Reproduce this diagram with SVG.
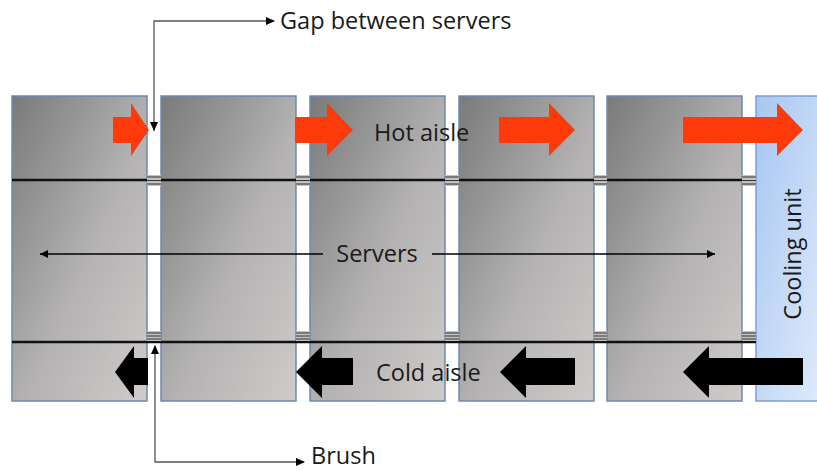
<svg xmlns="http://www.w3.org/2000/svg" width="817" height="471" viewBox="0 0 817 471">
  <defs>
    <linearGradient id="rackFill" x1="0" y1="0" x2="1" y2="1">
      <stop offset="0" stop-color="#7a7a7a"/>
      <stop offset="0.55" stop-color="#b4b2b2"/>
      <stop offset="1" stop-color="#cfcbcb"/>
    </linearGradient>
    <linearGradient id="coolFill" x1="0" y1="0" x2="1" y2="1">
      <stop offset="0" stop-color="#a6c6f2"/>
      <stop offset="1" stop-color="#e2ecfb"/>
    </linearGradient>
    <marker id="tipSmall" viewBox="0 0 10 10" refX="10" refY="5" markerWidth="8" markerHeight="8" markerUnits="userSpaceOnUse" orient="auto-start-reverse">
      <path d="M0,0 L10,5 L0,10 Z" fill="#000"/>
    </marker>
  </defs>
  <style>
    .rack { fill: url(#rackFill); stroke: #6d89ad; stroke-width: 1.5; }
    .cool { fill: url(#coolFill); stroke: #7f9fcb; stroke-width: 1.5; }
    .rail { stroke: #111; stroke-width: 2.4; }
    .brush rect { fill: #c4c2c2; }
    .brush line { stroke: #333; stroke-width: 1; }
    .hot { fill: #ff3a0a; }
    .cold { fill: #000; }
    .lbl { font-family: "Open Sans", "Liberation Sans", sans-serif; font-size: 23.5px; fill: #1a1a1a; }
    .lead { fill: none; stroke: #555; stroke-width: 1.3; }
  </style>

  <!-- server racks -->
  <g id="server1"><rect class="rack" x="12" y="96" width="135" height="305"/></g>
  <g id="server2"><rect class="rack" x="161" y="96" width="135" height="305"/></g>
  <g id="server3"><rect class="rack" x="310" y="96" width="135" height="305"/></g>
  <g id="server4"><rect class="rack" x="459" y="96" width="135" height="305"/></g>
  <g id="server5"><rect class="rack" x="607" y="96" width="135" height="305"/></g>

  <!-- cooling unit -->
  <g id="cooling-unit">
    <rect class="cool" x="756" y="96" width="70" height="305"/>
    <text class="lbl" transform="translate(801,254) rotate(-90)" text-anchor="middle">Cooling unit</text>
  </g>

  <!-- rails separating hot aisle, servers and cold aisle -->
  <g id="rails">
    <line class="rail" x1="12" y1="180" x2="756" y2="180"/>
    <line class="rail" x1="12" y1="342" x2="756" y2="342"/>
  </g>

  <!-- brushes closing the gaps between racks -->
  <g id="brushes" class="brush">
    <g transform="translate(147,175)"><rect width="14" height="11"/><line x1="0" y1="2" x2="14" y2="2"/><line x1="0" y1="5.5" x2="14" y2="5.5"/><line x1="0" y1="9" x2="14" y2="9"/></g>
    <g transform="translate(296,175)"><rect width="14" height="11"/><line x1="0" y1="2" x2="14" y2="2"/><line x1="0" y1="5.5" x2="14" y2="5.5"/><line x1="0" y1="9" x2="14" y2="9"/></g>
    <g transform="translate(445,175)"><rect width="14" height="11"/><line x1="0" y1="2" x2="14" y2="2"/><line x1="0" y1="5.5" x2="14" y2="5.5"/><line x1="0" y1="9" x2="14" y2="9"/></g>
    <g transform="translate(594,175)"><rect width="13" height="11"/><line x1="0" y1="2" x2="13" y2="2"/><line x1="0" y1="5.5" x2="13" y2="5.5"/><line x1="0" y1="9" x2="13" y2="9"/></g>
    <g transform="translate(742,175)"><rect width="14" height="11"/><line x1="0" y1="2" x2="14" y2="2"/><line x1="0" y1="5.5" x2="14" y2="5.5"/><line x1="0" y1="9" x2="14" y2="9"/></g>
    <g transform="translate(147,331)"><rect width="14" height="10"/><line x1="0" y1="2" x2="14" y2="2"/><line x1="0" y1="5" x2="14" y2="5"/><line x1="0" y1="8" x2="14" y2="8"/></g>
    <g transform="translate(296,331)"><rect width="14" height="10"/><line x1="0" y1="2" x2="14" y2="2"/><line x1="0" y1="5" x2="14" y2="5"/><line x1="0" y1="8" x2="14" y2="8"/></g>
    <g transform="translate(445,331)"><rect width="14" height="10"/><line x1="0" y1="2" x2="14" y2="2"/><line x1="0" y1="5" x2="14" y2="5"/><line x1="0" y1="8" x2="14" y2="8"/></g>
    <g transform="translate(594,331)"><rect width="13" height="10"/><line x1="0" y1="2" x2="13" y2="2"/><line x1="0" y1="5" x2="13" y2="5"/><line x1="0" y1="8" x2="13" y2="8"/></g>
    <g transform="translate(742,331)"><rect width="14" height="10"/><line x1="0" y1="2" x2="14" y2="2"/><line x1="0" y1="5" x2="14" y2="5"/><line x1="0" y1="8" x2="14" y2="8"/></g>
  </g>

  <!-- hot aisle airflow -->
  <g id="hot-aisle">
    <path class="hot" d="M113,117 H131 V103 L149,130 L131,156 V143 H113 Z"/>
    <path class="hot" d="M295,117 H327 V103 L353,130 L327,156 V143 H295 Z"/>
    <path class="hot" d="M499,117 H549 V103 L575,130 L549,156 V143 H499 Z"/>
    <path class="hot" d="M683,117 H777 V103 L803,130 L777,156 V143 H683 Z"/>
    <text class="lbl" x="374" y="141">Hot aisle</text>
  </g>

  <!-- cold aisle airflow -->
  <g id="cold-aisle">
    <path class="cold" d="M148,358 H134 V346 L115,372 L134,398 V385 H148 Z"/>
    <path class="cold" d="M353,358 H322 V346 L296,372 L322,398 V385 H353 Z"/>
    <path class="cold" d="M575,358 H526 V346 L500,372 L526,398 V385 H575 Z"/>
    <path class="cold" d="M803,358 H709 V346 L683,372 L709,398 V385 H803 Z"/>
    <text class="lbl" x="376" y="381">Cold aisle</text>
  </g>

  <!-- servers span -->
  <g id="servers-label">
    <text class="lbl" x="377" y="262" text-anchor="middle">Servers</text>
  </g>

  <!-- connectors -->
  <g id="connectors">
    <line x1="323" y1="254" x2="40" y2="254" stroke="#000" stroke-width="1.3" marker-end="url(#tipSmall)"/>
    <line x1="432" y1="254" x2="715" y2="254" stroke="#000" stroke-width="1.3" marker-end="url(#tipSmall)"/>
    <polyline class="lead" points="154,131 154,21 274,21"/>
    <path d="M150,122 L158,122 L154,131 Z" fill="#000"/>
    <path d="M266,17 L275,21 L266,25 Z" fill="#000"/>
    <polyline class="lead" points="155,346 155,462 304,462"/>
    <path d="M151,354 L159,354 L155,345 Z" fill="#000"/>
    <path d="M296,458 L305,462 L296,466 Z" fill="#000"/>
  </g>

  <!-- annotation labels -->
  <g id="gap-label"><text class="lbl" x="280" y="29">Gap between servers</text></g>
  <g id="brush-label"><text class="lbl" x="311" y="464">Brush</text></g>
</svg>
